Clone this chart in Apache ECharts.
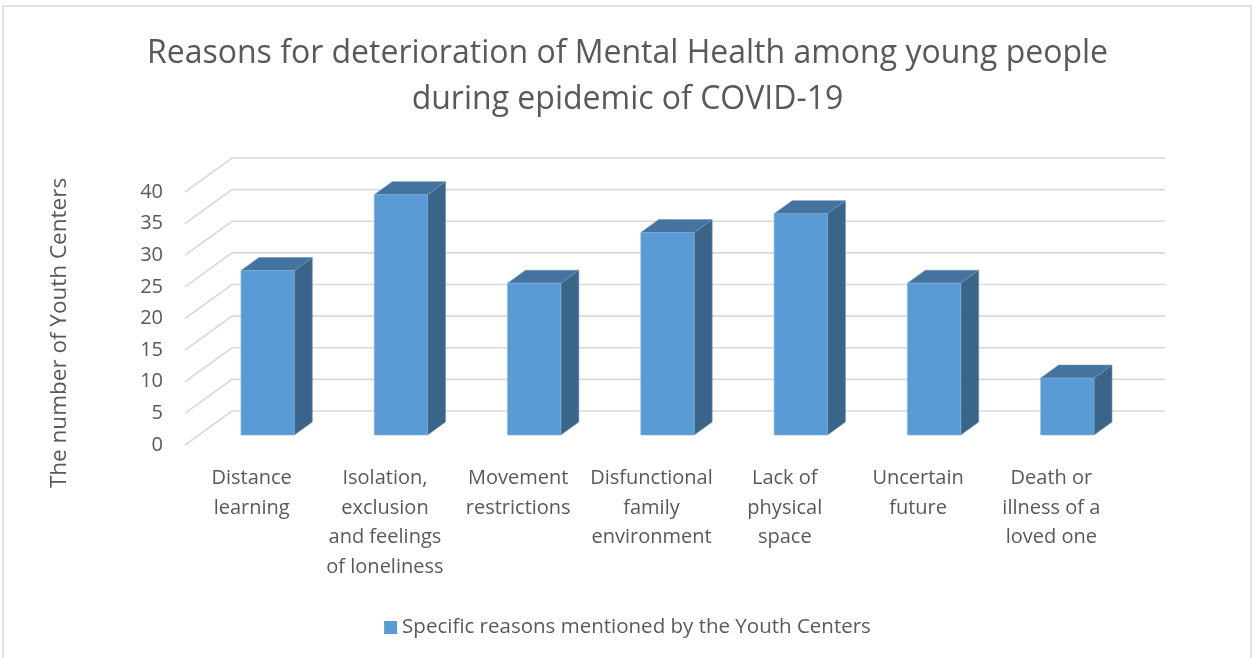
<!DOCTYPE html>
<html>
<head>
<meta charset="utf-8">
<script src="https://cdn.jsdelivr.net/npm/echarts@6/dist/echarts.min.js"></script>
<style>html,body{margin:0;padding:0;background:#fff}#c{width:1255px;height:658px}</style>
</head>
<body>
<div id="c"></div>
<script>
// ---- data ----
const categories = [
  'Distance\nlearning',
  'Isolation,\nexclusion\nand feelings\nof loneliness',
  'Movement\nrestrictions',
  'Disfunctional\nfamily\nenvironment',
  'Lack of\nphysical\nspace',
  'Uncertain\nfuture',
  'Death or\nillness of a\nloved one'
];
const values = [26, 38, 24, 32, 35, 24, 9];
const yTicks = [0, 5, 10, 15, 20, 25, 30, 35, 40];
const seriesName = 'Specific reasons mentioned by the Youth Centers';
const titleText = 'Reasons for deterioration of Mental Health among young people\nduring epidemic of COVID-19';
const yAxisTitle = 'The number of Youth Centers';

// ---- styling / layout ----
const FONT = '"Open Sans", "Noto Sans", sans-serif';
const TXT = '#595959';
const WALL_DX = 47, WALL_DY = -34;     // perspective depth of the back wall
const BAR_OX = 16, BAR_OY = -10;       // bar front face offset into depth
const BAR_DX = 18, BAR_DY = -13;       // bar depth

const chart = echarts.init(document.getElementById('c'), null, {renderer: 'canvas'});

function renderGrid(params, api) {
  const y = api.coord([0, api.value(1)])[1];
  const cs = params.coordSys;
  const x0 = cs.x;
  return {
    type: 'polyline',
    shape: {points: [[x0, y], [x0 + WALL_DX, y + WALL_DY], [x0 + cs.width + WALL_DX, y + WALL_DY]]},
    style: {stroke: '#d9d9d9', lineWidth: 1.6, fill: null},
    silent: true
  };
}

function renderBar(params, api) {
  const i = api.value(0), v = api.value(1);
  const base = api.coord([i, 0]);
  const top = api.coord([i, v]);
  const band = api.size([1, 0])[0];
  const w = band * 0.4;
  const fx = base[0] - w / 2 + BAR_OX;
  const fb = base[1] + BAR_OY;
  const ft = top[1] + BAR_OY;
  return {
    type: 'group',
    children: [
      {type: 'polygon', shape: {points: [[fx + w, ft], [fx + w + BAR_DX, ft + BAR_DY], [fx + w + BAR_DX, fb + BAR_DY], [fx + w, fb]]},
       style: {fill: '#3a6488', stroke: '#6f95bb', lineWidth: 0.6}},
      {type: 'polygon', shape: {points: [[fx, ft], [fx + BAR_DX, ft + BAR_DY], [fx + w + BAR_DX, ft + BAR_DY], [fx + w, ft]]},
       style: {fill: '#44739f', stroke: '#6f95bb', lineWidth: 0.6}},
      {type: 'rect', shape: {x: fx, y: ft, width: w, height: fb - ft},
       style: {fill: '#5b9bd5', stroke: '#7fb0dd', lineWidth: 0.6}}
    ]
  };
}

chart.setOption({
  animation: false,
  backgroundColor: '#ffffff',
  title: {
    text: titleText,
    left: 'center',
    top: 26,
    textStyle: {fontFamily: FONT, fontSize: 32, fontWeight: 'normal', color: TXT, lineHeight: 46}
  },
  legend: {
    data: [seriesName],
    top: 612,
    left: 'center',
    icon: 'rect',
    itemWidth: 13,
    itemHeight: 13,
    itemGap: 6,
    textStyle: {fontFamily: FONT, fontSize: 20.5, color: TXT}
  },
  grid: {left: 185, top: 192, width: 933, height: 253, containLabel: false},
  xAxis: {
    type: 'category',
    data: categories,
    axisLine: {show: false},
    axisTick: {show: false},
    splitLine: {show: false},
    axisLabel: {fontFamily: FONT, fontSize: 20, color: TXT, lineHeight: 29.5, margin: 19, interval: 0}
  },
  yAxis: {
    type: 'value',
    min: 0, max: 40, interval: 5,
    axisLine: {show: false},
    axisTick: {show: false},
    splitLine: {show: false},
    axisLabel: {fontFamily: FONT, fontSize: 20, color: TXT, margin: 22}
  },
  graphic: [
    {type: 'rect', shape: {x: 3, y: 6, width: 1248, height: 660}, style: {fill: null, stroke: '#d9d9d9', lineWidth: 1.5}, silent: true, z: -10},
    {type: 'text', x: 60, y: 333, rotation: Math.PI / 2,
     style: {text: yAxisTitle, fontFamily: FONT, fontSize: 22.5, fill: TXT, textAlign: 'center', textVerticalAlign: 'middle'}}
  ],
  series: [
    {
      type: 'custom',
      name: 'grid',
      renderItem: renderGrid,
      data: yTicks.map(t => [0, t]),
      z: 1,
      silent: true,
      tooltip: {show: false}
    },
    {
      type: 'custom',
      name: seriesName,
      renderItem: renderBar,
      itemStyle: {color: '#5b9bd5'},
      data: values.map((v, i) => [i, v]),
      z: 2
    }
  ]
});
</script>
</body>
</html>
